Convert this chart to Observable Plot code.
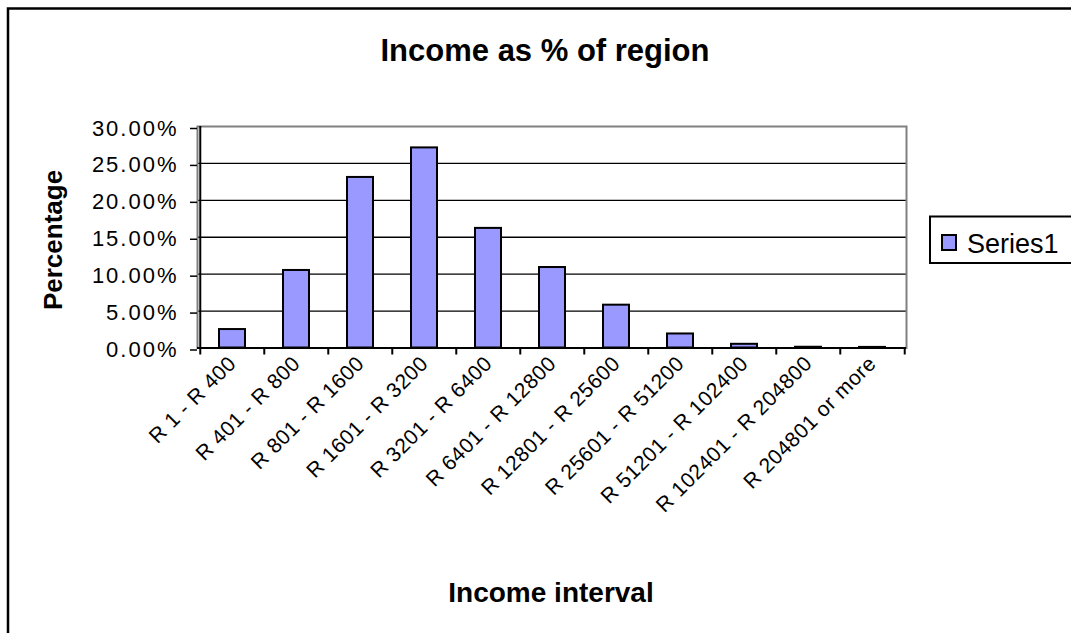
<!DOCTYPE html>
<html>
<head>
<meta charset="utf-8">
<script src="https://cdn.jsdelivr.net/npm/d3@7"></script>
<script src="https://cdn.jsdelivr.net/npm/@observablehq/plot@0.6"></script>
<style>
  body { margin: 0; background: #fff; }
  #chart { position: relative; width: 1071px; height: 633px; overflow: hidden; }
  #chart svg { position: absolute; left: 0; top: 0; }
  g[aria-label="y-axis tick label"] text { letter-spacing: 2px; }
  g[aria-label="x-axis tick label"] text { letter-spacing: 0.5px; }
</style>
</head>
<body>
<div id="chart"></div>
<script>
// ---- data ----
const categories = [
  "R 1 - R 400", "R 401 - R 800", "R 801 - R 1600", "R 1601 - R 3200",
  "R 3201 - R 6400", "R 6401 - R 12800", "R 12801 - R 25600", "R 25601 - R 51200",
  "R 51201 - R 102400", "R 102401 - R 204800", "R 204801 or more"
];
const values = [0.025, 0.105, 0.231, 0.271, 0.162, 0.109, 0.058, 0.019, 0.005, 0.001, 0.0008];
const yTicks = [0, 0.05, 0.10, 0.15, 0.20, 0.25, 0.30];
const seriesName = "Series1";
const titleText = "Income as % of region";
const xLabel = "Income interval";
const yLabel = "Percentage";

// ---- layout ----
const W = 1071, H = 633;
const mL = 197, mR = 165, mT = 126, mB = 285.5;
const step = (W - mL - mR) / categories.length;
const font = "'Liberation Sans', Arial, sans-serif";
const barFill = "#9999FF";

const data = categories.map((c, i) => ({category: c, value: values[i]}));

const chart = Plot.plot({
  width: W, height: H,
  marginLeft: mL, marginRight: mR, marginTop: mT, marginBottom: mB,
  style: {fontFamily: font, fontSize: "22px", color: "#000", background: "transparent", overflow: "visible"},
  x: {domain: categories, paddingInner: 0.6, paddingOuter: 0.3, axis: null},
  y: {domain: [0, 0.3], axis: null},
  marks: [
    Plot.ruleY(yTicks.filter(t => t > 0 && t < 0.3), {stroke: "#000", strokeWidth: 1.3}),
    Plot.frame({stroke: "#808080", strokeWidth: 2}),
    Plot.barY(data, {x: "category", y: "value", fill: barFill, stroke: "#000", strokeWidth: 2}),
    Plot.ruleX([categories[0]], {dx: -step / 2, stroke: "#000", strokeWidth: 2}),
    Plot.ruleY([0], {stroke: "#000", strokeWidth: 2}),
    Plot.ruleX(categories, {x: d => d, y1: 0, y2: 0, insetBottom: -7, dx: -step / 2, stroke: "#000", strokeWidth: 2}),
    Plot.ruleX([categories[categories.length - 1]], {y1: 0, y2: 0, insetBottom: -7, dx: step / 2, stroke: "#000", strokeWidth: 2}),
    Plot.axisY({ticks: yTicks, tickFormat: d3.format(".2%"), tickSize: 7, tickPadding: 12, label: null, strokeWidth: 1.5, fontSize: 22, dy: 2}),
    Plot.axisX({tickSize: 0, tickRotate: -45, tickPadding: 12, label: null, fontSize: 21})
  ]
});
document.getElementById("chart").appendChild(chart);

// ---- titles, legend, outer frame ----
const svg = d3.select(chart);
svg.append("rect").attr("x", 8).attr("y", 8.5).attr("width", 1200).attr("height", 800)
  .attr("fill", "none").attr("stroke", "#000").attr("stroke-width", 2.5);
svg.append("text").text(titleText)
  .attr("x", 545).attr("y", 61).attr("text-anchor", "middle")
  .attr("font-family", font).attr("font-weight", "bold").attr("font-size", 31).attr("fill", "#000");
svg.append("text").text(xLabel)
  .attr("x", 551).attr("y", 602).attr("text-anchor", "middle")
  .attr("font-family", font).attr("font-weight", "bold").attr("font-size", 28).attr("fill", "#000");
svg.append("text").text(yLabel)
  .attr("transform", "translate(62,240) rotate(-90)").attr("text-anchor", "middle")
  .attr("font-family", font).attr("font-weight", "bold").attr("font-size", 26).attr("fill", "#000");
const lg = svg.append("g");
lg.append("rect").attr("x", 930).attr("y", 216.5).attr("width", 200).attr("height", 46.5)
  .attr("fill", "#fff").attr("stroke", "#000").attr("stroke-width", 2);
lg.append("rect").attr("x", 942).attr("y", 235).attr("width", 14).attr("height", 15)
  .attr("fill", barFill).attr("stroke", "#000").attr("stroke-width", 2);
lg.append("text").text(seriesName)
  .attr("x", 967).attr("y", 253).attr("text-anchor", "start")
  .attr("font-family", font).attr("font-size", 27).attr("fill", "#000");
</script>
</body>
</html>
